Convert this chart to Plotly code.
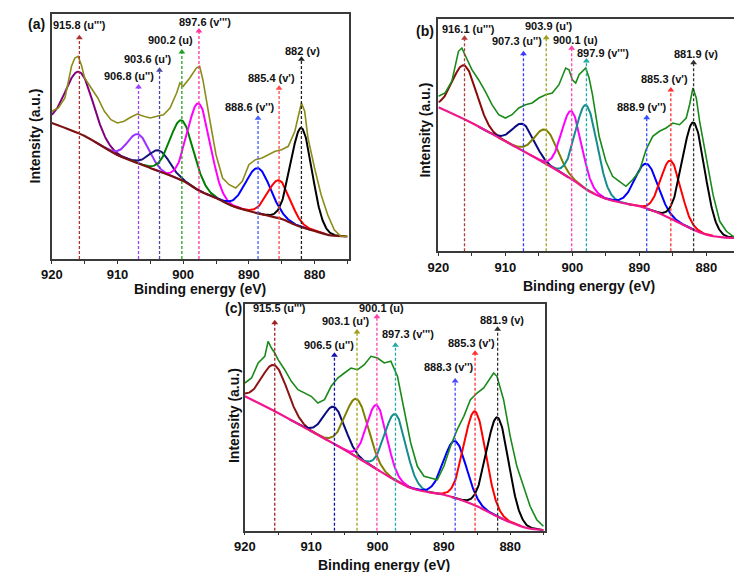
import numpy as np
import plotly.graph_objects as go

# ---------------- data ----------------
# intensities are in arbitrary units (a.u.)
bg_x = [920, 915, 910, 905, 900, 897.5, 895, 892.5, 890, 887.5, 885, 882.5, 880, 877.5, 875]

# Panel (a)
a_exp_x = [920, 919, 918, 917, 916.5, 916, 915.5, 915, 914, 913, 912, 911, 910, 909, 908, 907, 906, 905, 904,
           903, 902, 901, 900.5, 900, 899, 898, 897.5, 897, 896, 895, 894, 893, 892, 891, 890, 889, 888, 887,
           886, 885, 884, 883, 882, 881.5, 881, 880, 879, 878, 877, 876, 875]
a_exp_y = [147.7, 151, 161, 192.7, 201, 202.7, 194, 181, 171, 161, 147.7, 139.3, 136, 137.7, 141.7, 145, 142.7,
           141, 142.7, 144.3, 151, 166, 176, 172.7, 181, 191, 192.7, 179.3, 141, 104.3, 81, 74.3, 71, 77.7,
           94.3, 99.3, 101, 104.3, 107.7, 109.3, 112.7, 127.7, 156, 147.7, 121, 91, 64.3, 44.3, 29.3, 22.7, 22.7]
a_bg_y = [136, 123, 104, 91, 78, 68, 61, 53, 48, 44, 40, 33, 28, 23.5, 22.5]
a_centers = [915.8, 906.8, 903.6, 900.2, 897.6, 888.6, 885.4, 882.0]
a_amps = [62, 29, 21, 60, 87, 45, 38, 99]
a_sigmas = [2.1, 1.6, 1.6, 1.8, 1.7, 1.9, 1.7, 1.6]
a_labels = ["915.8 (u''')", "906.8 (u'')", "903.6 (u')", "900.2 (u)", "897.6 (v''')", "888.6 (v'')",
            "885.4 (v')", "882 (v)"]

# Panel (b)
b_exp_x = [920, 919, 918, 917, 916.5, 916, 915, 914, 913, 912, 911, 910, 909, 908, 907, 906, 905, 904, 903,
           902, 901, 900.5, 900, 899.5, 899, 898, 897.5, 897, 896, 895, 894, 893, 892, 891, 890, 889, 888,
           887, 886, 885, 884, 883, 882.5, 882, 881.5, 881, 880, 879, 878, 877, 876, 875]
b_exp_y = [155, 158.3, 170, 200, 203.3, 196.6, 181.6, 171.6, 160, 146.6, 136.6, 133.3, 136.6, 143.3, 146.6,
           148.3, 153.3, 156.6, 158.3, 166.6, 183.3, 181.6, 171.6, 168.3, 176.6, 183.3, 173.3, 156.6, 115,
           90, 75, 70, 65, 71.6, 80, 101.6, 115, 120, 123.3, 128.3, 126.6, 133.3, 146.6, 163.3, 153.3, 130,
           93.3, 56.6, 30, 20, 15, 13.3]
b_bg_y = [144, 128.3, 110, 91.6, 71.6, 60, 52.6, 48.3, 45, 39.3, 31.6, 23.3, 16.6, 14, 13.3]
b_centers = [916.1, 907.3, 903.9, 900.1, 897.9, 888.9, 885.3, 881.9]
b_amps = [54, 27, 34, 68, 84, 45, 58, 107]
b_sigmas = [1.8, 1.6, 1.7, 1.5, 1.6, 1.7, 1.5, 1.65]
b_labels = ["916.1 (u''')", "907.3 (u'')", "903.9 (u')", "900.1 (u)", "897.9 (v''')", "888.9 (v'')",
            "885.3 (v')", "881.9 (v)"]

# Panel (c)
c_exp_x = [920, 919, 918, 917, 916.5, 916, 915.5, 915, 914, 913, 912, 911, 910, 909, 908, 907, 906, 905, 904,
           903, 902, 901, 900, 899, 898, 897, 896, 895, 894, 893, 892, 891, 890, 889, 888, 887, 886, 885,
           884, 883, 882.5, 882, 881, 880, 879, 878, 877, 876, 875]
c_exp_y = [147.7, 152.7, 167.7, 174.4, 189.4, 182.7, 177.7, 171, 161, 149.4, 141, 137.7, 134.4, 127.7, 131,
           144.4, 152.7, 157.7, 162.7, 161, 166, 174.4, 172.7, 167.7, 169.4, 154.4, 122.7, 87.7, 64.4, 54.4,
           52.7, 51, 64.4, 84.4, 101, 114.4, 131, 137.7, 142.7, 152.7, 157.7, 154.4, 131, 94.4, 64.4, 44.4,
           24.4, 11, 4.4]
c_bg_y = [134.4, 117.7, 99.4, 81, 61, 51, 42.7, 38.7, 36, 31, 24.4, 16, 8.4, 2.7, 0.5]
c_centers = [915.5, 906.5, 903.1, 900.1, 897.3, 888.3, 885.3, 881.9]
c_amps = [46, 37, 58, 64, 66, 57, 94, 99]
c_sigmas = [1.9, 1.6, 1.75, 1.5, 1.6, 1.7, 1.64, 1.65]
c_labels = ["915.5 (u''')", "906.5 (u'')", "903.1 (u')", "900.1 (u)", "897.3 (v''')", "888.3 (v'')",
            "885.3 (v')", "881.9 (v)"]

tick_vals = [920, 915, 910, 905, 900, 895, 890, 885, 880, 875]
tick_text = ["920", "", "910", "", "900", "", "890", "", "880", ""]

# ---------------- layout / style (positions, not data) ----------------
FONT = "Liberation Sans, Arial, sans-serif"
W, H = 742, 572

a_tip = [224.3, 175, 191.7, 210, 231, 143.7, 173.7, 202.7]
a_lab_y = [234.3, 182.7, 200, 219.3, 237.5, 151.7, 181, 208.3]
a_lab_dx = [0, -10, -12, -11.5, 6, -8, -8, 1]
b_tip = [216, 200.6, 216.6, 206, 193.3, 136.6, 164.3, 191.6]
b_lab_y = [222.6, 210, 225, 211, 198.3, 144.3, 172.6, 197.6]
b_lab_dx = [4, -6, 3, 3.5, 17, -5, -6.5, 2.6]
c_tip = [211, 178.4, 201.7, 217, 188.4, 152.7, 180.4, 204.4]
c_lab_y = [222.7, 186, 209.4, 222.7, 197, 163.7, 187.7, 211]
c_lab_dx = [4.4, -5, -11, 5, 13, -6.6, -4, 4]

panels = [
    dict(xa="x", ya="y", xkey="xaxis", ykey="yaxis",
         px=(33.3, 335.0), py=(6.0, 251.0), xmin=874.75,
         exp_x=a_exp_x, exp_y=a_exp_y, exp_color="#8c8c1a", bg_y=a_bg_y, bg_color="#7a1212",
         centers=a_centers, amps=a_amps, sigmas=a_sigmas, labels=a_labels,
         colors=["#800080", "#9933ff", "#15157a", "#008000", "#ff00ff", "#0000ff", "#ff0000", "#000000"],
         dcolors=["#b03030", "#a040ff", "#4848a8", "#20a020", "#ff3399", "#4060ff", "#ff4848", "#202020"],
         tip=a_tip, lab_y=a_lab_y, lab_dx=a_lab_dx,
         tag="(a)", tag_pos=(18, 16), ytitle_pos=(16.7, 128), xtitle_pos=(184, 281)),
    dict(xa="x2", ya="y2", xkey="xaxis2", ykey="yaxis2",
         px=(425.7, 733.3), py=(11.0, 243.3), xmin=874.76,
         exp_x=b_exp_x, exp_y=b_exp_y, exp_color="#1a8a1a", bg_y=b_bg_y, bg_color="#f0168c",
         centers=b_centers, amps=b_amps, sigmas=b_sigmas, labels=b_labels,
         colors=["#8b0a0a", "#0a0a80", "#808000", "#ff00ff", "#138c8c", "#0000ff", "#ff0000", "#000000"],
         dcolors=["#b03838", "#3a3aff", "#a0a020", "#ff40b0", "#20aaaa", "#3050ff", "#ff3030", "#303030"],
         tip=b_tip, lab_y=b_lab_y, lab_dx=b_lab_dx,
         tag="(b)", tag_pos=(411.7, 22.7), ytitle_pos=(411.7, 122), xtitle_pos=(579, 278)),
    dict(xa="x3", ya="y3", xkey="xaxis3", ykey="yaxis3",
         px=(229.3, 534.3), py=(296.0, 522.7), xmin=874.7,
         exp_x=c_exp_x, exp_y=c_exp_y, exp_color="#1a8a1a", bg_y=c_bg_y, bg_color="#f0168c",
         centers=c_centers, amps=c_amps, sigmas=c_sigmas, labels=c_labels,
         colors=["#8b1414", "#0a0a80", "#808000", "#ff00ff", "#138c8c", "#0000ff", "#ff0000", "#000000"],
         dcolors=["#a02020", "#1010b0", "#a0a020", "#ff40b0", "#20aaaa", "#4848ff", "#ff3030", "#303030"],
         tip=c_tip, lab_y=c_lab_y, lab_dx=c_lab_dx,
         tag="(c)", tag_pos=(218, 300), ytitle_pos=(218.3, 408), xtitle_pos=(370, 557)),
]

fig = go.Figure()
shapes, annotations = [], []
layout_axes = {}

for p in panels:
    xa, ya = p["xa"], p["ya"]
    bgx = np.array(bg_x[::-1], dtype=float)
    bgy = np.array(p["bg_y"][::-1], dtype=float)
    # fitted components (background + gaussian)
    for c, a, s, col in zip(p["centers"], p["amps"], p["sigmas"], p["colors"]):
        gx = np.linspace(max(875.0, c - 4.2 * s), min(920.0, c + 4.2 * s), 160)
        base = np.interp(gx, bgx, bgy)
        gy = base + a * np.exp(-((gx - c) ** 2) / (2 * s * s))
        fig.add_trace(go.Scatter(x=gx, y=gy, xaxis=xa, yaxis=ya, mode="lines",
                                 line=dict(color=col, width=2), hoverinfo="skip", showlegend=False))
    # background
    fig.add_trace(go.Scatter(x=bg_x, y=p["bg_y"], xaxis=xa, yaxis=ya, mode="lines",
                             line=dict(color=p["bg_color"], width=2.2, shape="spline", smoothing=0.8),
                             hoverinfo="skip", showlegend=False))
    # experimental
    fig.add_trace(go.Scatter(x=p["exp_x"], y=p["exp_y"], xaxis=xa, yaxis=ya, mode="lines",
                             line=dict(color=p["exp_color"], width=1.6), hoverinfo="skip", showlegend=False))
    # arrowheads
    fig.add_trace(go.Scatter(x=p["centers"], y=[t - 3 for t in p["tip"]], xaxis=xa, yaxis=ya, mode="markers",
                             marker=dict(symbol="triangle-up", size=6, color=p["dcolors"], line=dict(width=0)),
                             hoverinfo="skip", showlegend=False))
    for c, t, dc, lab, ly, dx in zip(p["centers"], p["tip"], p["dcolors"], p["labels"], p["lab_y"], p["lab_dx"]):
        shapes.append(dict(type="line", xref=xa, yref=ya, x0=c, x1=c, y0=0, y1=t - 4,
                           line=dict(color=dc, width=1.3, dash="3px,2px")))
        annotations.append(dict(x=c, y=ly, xref=xa, yref=ya, text=lab, showarrow=False, xshift=dx,
                                xanchor="center", yanchor="middle",
                                font=dict(family=FONT, size=11, color="#111111", weight="bold")))
    # axes
    x0, x1 = p["px"]
    y0, y1 = p["py"]
    layout_axes[p["xkey"]] = dict(
        domain=[x0 / W, x1 / W], anchor=ya, range=[920, p["xmin"]],
        tickvals=tick_vals, ticktext=tick_text, ticks="outside", ticklen=3, tickwidth=1.3,
        tickcolor="#333333", showline=True, linecolor="#3a3a3a", linewidth=1.5, mirror=True,
        showgrid=False, zeroline=False,
        tickfont=dict(family=FONT, size=13, color="#111111", weight="bold"))
    layout_axes[p["ykey"]] = dict(
        domain=[1 - y1 / H, 1 - y0 / H], anchor=xa, range=[0, y1 - y0],
        showticklabels=False, ticks="", showline=True, linecolor="#3a3a3a", linewidth=1.5,
        mirror=True, showgrid=False, zeroline=False)
    # titles & tags
    annotations.append(dict(x=p["xtitle_pos"][0] / W, y=1 - p["xtitle_pos"][1] / H, xref="paper", yref="paper",
                            text="Binding energy (eV)", showarrow=False, xanchor="center", yanchor="middle",
                            font=dict(family=FONT, size=14, color="#111111", weight="bold")))
    annotations.append(dict(x=p["ytitle_pos"][0] / W, y=1 - p["ytitle_pos"][1] / H, xref="paper", yref="paper",
                            text="Intensity (a.u.)", showarrow=False, textangle=-90,
                            xanchor="center", yanchor="middle",
                            font=dict(family=FONT, size=14, color="#111111", weight="bold")))
    annotations.append(dict(x=p["tag_pos"][0] / W, y=1 - p["tag_pos"][1] / H, xref="paper", yref="paper",
                            text=p["tag"], showarrow=False, xanchor="center", yanchor="middle",
                            font=dict(family=FONT, size=14, color="#111111", weight="bold")))

fig.update_layout(
    width=W, height=H, autosize=False,
    margin=dict(l=0, r=0, t=0, b=0),
    paper_bgcolor="white", plot_bgcolor="white",
    showlegend=False, shapes=shapes, annotations=annotations,
    **layout_axes,
)

fig.write_html("out.html")
